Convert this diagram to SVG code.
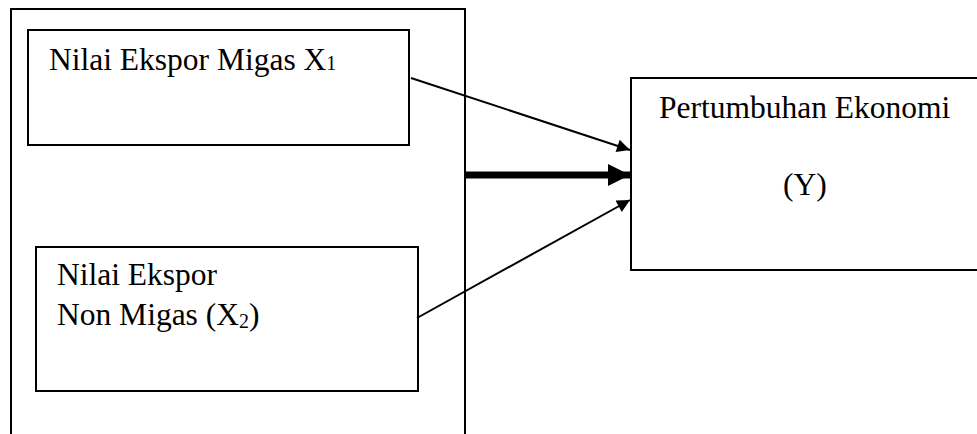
<svg xmlns="http://www.w3.org/2000/svg" width="977" height="434" viewBox="0 0 977 434">
  <style>
    .box { fill: none; stroke: #000; stroke-width: 2; }
    .lbl { font-family: "Liberation Serif", "Times New Roman", serif; font-size: 31.5px; fill: #000; }
    .sub { font-size: 20px; }
    .edge { stroke: #000; stroke-width: 2; fill: none; }
    .edge-bold { stroke: #000; stroke-width: 7; fill: none; }
  </style>
  <defs>
    <marker id="head" viewBox="0 0 10 10" refX="10" refY="5" markerUnits="userSpaceOnUse" markerWidth="17" markerHeight="13" orient="auto">
      <path d="M0,0 L10,5 L0,10 Z" fill="#000"/>
    </marker>
    <marker id="head-bold" viewBox="0 0 10 10" refX="10" refY="5" markerUnits="userSpaceOnUse" markerWidth="23" markerHeight="22" orient="auto">
      <path d="M0,0 L10,5 L0,10 Z" fill="#000"/>
    </marker>
  </defs>
  <rect width="977" height="434" fill="#fff"/>

  <!-- frame around the independent variables -->
  <g id="frame">
    <path class="box" d="M11,440 L11,9 L465,9 L465,440"/>
  </g>

  <g id="x1">
    <rect class="box" x="28" y="30" width="381" height="115"/>
    <text class="lbl" x="49" y="70">Nilai Ekspor Migas X<tspan class="sub">1</tspan></text>
  </g>

  <g id="x2">
    <rect class="box" x="36" y="247" width="382" height="144"/>
    <text class="lbl" x="57" y="285">Nilai Ekspor</text>
    <text class="lbl" x="57" y="325">Non Migas (X<tspan class="sub" dy="3">2</tspan><tspan dy="-3">)</tspan></text>
  </g>

  <g id="y">
    <path class="box" d="M980,78 L631,78 L631,270 L980,270"/>
    <text class="lbl" x="659" y="118">Pertumbuhan Ekonomi</text>
    <text class="lbl" x="783" y="195">(Y)</text>
  </g>

  <g id="connectors">
    <line class="edge" x1="411" y1="78" x2="630" y2="150" marker-end="url(#head)"/>
    <line class="edge-bold" x1="465" y1="175" x2="630" y2="175" marker-end="url(#head-bold)"/>
    <line class="edge" x1="417" y1="318" x2="630" y2="200" marker-end="url(#head)"/>
  </g>
</svg>
